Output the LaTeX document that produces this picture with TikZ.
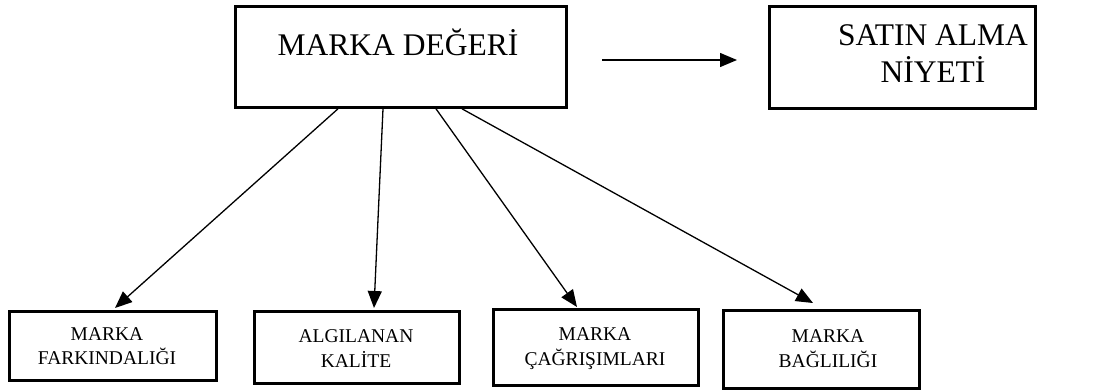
\documentclass[tikz,border=0pt]{standalone}
\usepackage{fontspec}
\setmainfont{Liberation Serif}
\usetikzlibrary{arrows.meta}
\tikzset{
  boxnode/.style={draw, line width=2.8pt, rectangle, inner sep=0pt, anchor=north west},
  bigtext/.style={font=\fontsize{31.5}{37}\selectfont, align=center, inner sep=0pt},
  smalltext/.style={font=\fontsize{19.5}{24.5}\selectfont, align=center, inner sep=0pt},
  conn/.style={line width=1.3pt, -{Triangle[length=17pt,width=14pt]}}
}
\begin{document}
\begin{tikzpicture}[x=1pt,y=-1pt]
\useasboundingbox (0,0) rectangle (1101,389);
% top boxes
\node[boxnode, minimum width=331pt, minimum height=101pt] (md) at (234,5) {};
\node[boxnode, minimum width=266pt, minimum height=102pt] (sa) at (768,5) {};
\node[bigtext, anchor=base] (mdt) at (398,55) {MARKA DEĞERİ};
\node[bigtext] (sat) at (933,53.5) {SATIN ALMA\\NİYETİ};
% bottom boxes
\node[boxnode, minimum width=207pt, minimum height=69pt] (b1) at (8,310) {};
\node[boxnode, minimum width=205pt, minimum height=72pt] (b2) at (253,310) {};
\node[boxnode, minimum width=205pt, minimum height=76pt] (b3) at (492,308) {};
\node[boxnode, minimum width=196pt, minimum height=78pt] (b4) at (722,309) {};
\node[smalltext] (t1) at (107,346) {MARKA\\FARKINDALIĞI};
\node[smalltext] (t2) at (356,348.5) {ALGILANAN\\KALİTE};
\node[smalltext] (t3) at (595,348.5) {MARKA\\ÇAĞRIŞIMLARI};
\node[smalltext] (t4) at (828,348.5) {MARKA\\BAĞLILIĞI};
% horizontal arrow
\coordinate (h1) at (602,60);
\coordinate (h2) at (737,60);
\draw[conn] (h1) -- (h2);
% connectors
\draw[conn] ([xshift=104pt]md.south west) -- ([xshift=107pt,yshift=2pt]b1.north west);
\draw[conn] ([xshift=149pt]md.south west) -- ([xshift=121pt,yshift=2pt]b2.north west);
\draw[conn] ([xshift=202pt]md.south west) -- ([xshift=85pt,yshift=1pt]b3.north west);
\draw[conn] ([xshift=228pt]md.south west) -- ([xshift=91pt,yshift=6pt]b4.north west);
\end{tikzpicture}
\end{document}
